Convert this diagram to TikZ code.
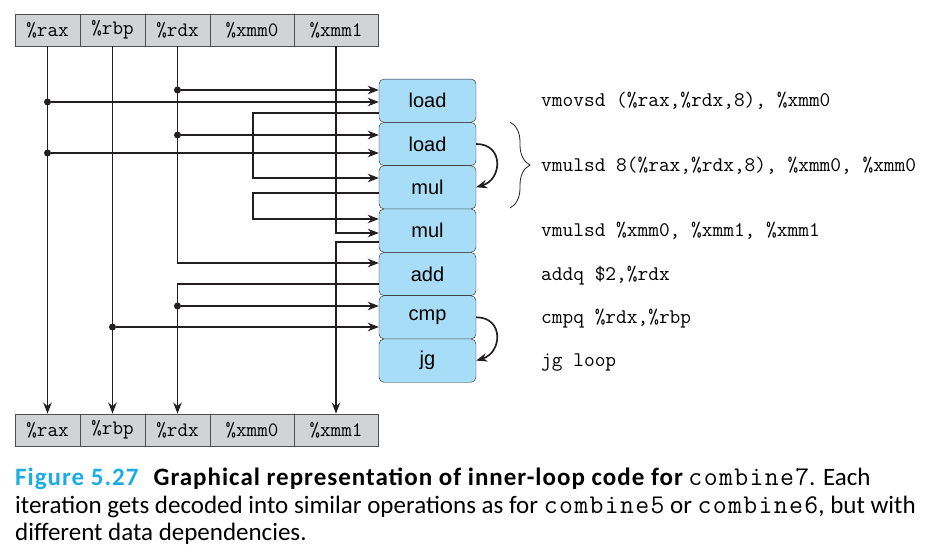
\documentclass[tikz,border=0pt]{standalone}
\usepackage{fontspec}
\setmainfont{Carlito}
\setsansfont{Liberation Sans}
\newfontfamily\capmono[LetterSpace=5]{Latin Modern Mono}
\usetikzlibrary{arrows.meta,decorations.pathreplacing}
\definecolor{Linea}{HTML}{231F20}
\definecolor{GrisReg}{HTML}{D1D3D4}
\definecolor{BordeReg}{HTML}{4D4D4F}
\definecolor{AzulOp}{HTML}{A8DDF7}
\definecolor{Cian}{HTML}{1AACE3}

\begin{document}
\begin{tikzpicture}[
  x=1pt,y=-1pt,
  reg/.style={draw=BordeReg,fill=GrisReg,minimum height=32.5pt,inner sep=0pt,
    font=\fontsize{20.5}{22}\selectfont\ttfamily},
  op/.style={draw=Linea,fill=AzulOp,rounded corners=5pt,minimum width=97pt,
    minimum height=43.3pt,inner sep=0pt,font=\fontsize{20}{22}\selectfont\sffamily},
  wire/.style={Linea,line width=1.7pt},
  arr/.style={wire,-{Stealth[length=11pt,width=8.5pt]}},
  dot/.style={circle,fill=Linea,inner sep=0pt,minimum size=7pt},
  code/.style={anchor=base west,inner sep=0pt,font=\fontsize{20.8}{22}\selectfont\ttfamily}
]
  \useasboundingbox (0,0) rectangle (930,560);

  % Barras de registros arriba y abajo.
  \foreach \r/\x/\w in {rax/47.5/65,rbp/112.5/65,rdx/177.5/65,xmm0/252/84,xmm1/336/84}
    {\node[reg,minimum width=\w pt] (\r-top) at (\x,30) {\%\r};
     \node[reg,minimum width=\w pt] (\r-bot) at (\x,430) {\%\r};}

  % Operaciones del bucle.
  \node[op] (ld1)  at (427.5,100.7) {load};
  \node[op] (ld2)  at (427.5,144.0) {load};
  \node[op] (mul1) at (427.5,187.3) {mul};
  \node[op] (mul2) at (427.5,230.6) {mul};
  \node[op] (add)  at (427.5,274.0) {add};
  \node[op] (cmp)  at (427.5,317.3) {cmp};
  \node[op] (jg)   at (427.5,360.6) {jg};

  % Registros que pasan de largo.
  \draw[arr] (rax-top.south) -- (rax-bot.north);
  \draw[arr] (rbp-top.south) -- (rbp-bot.north);
  \draw[arr] (rdx-top.south) |- ([yshift=11pt]add.west);
  \draw[arr] ([yshift=-10pt]add.west) -| (rdx-bot.north);
  \draw[arr] (xmm1-top.south) |- ([yshift=-2.4pt]mul2.west);
  \draw[arr] ([yshift=-11.4pt]mul2.west) -| (xmm1-bot.north);

  % Cadena load -> mul -> mul.
  \draw[arr] ([yshift=-12.3pt]ld1.west) -- ++(-126,0) |- ([yshift=9.3pt]mul1.west);
  \draw[arr] ([yshift=-5.7pt]mul1.west) -- ++(-126,0) |- ([yshift=11.6pt]mul2.west);

  % Derivaciones con punto.
  \node[dot] (rdx-a) at (177.5,90)  {};
  \node[dot] (rax-a) at (47.5,102)  {};
  \node[dot] (rdx-b) at (177.5,135) {};
  \node[dot] (rax-b) at (47.5,153)  {};
  \node[dot] (rdx-c) at (177.5,306) {};
  \node[dot] (rbp-a) at (112.5,327) {};
  \draw[arr] (rdx-a) -- (rdx-a -| ld1.west);
  \draw[arr] (rax-a) -- (rax-a -| ld1.west);
  \draw[arr] (rdx-b) -- (rdx-b -| ld2.west);
  \draw[arr] (rax-b) -- (rax-b -| ld2.west);
  \draw[arr] (rdx-c) -- (rdx-c -| cmp.west);
  \draw[arr] (rbp-a) -- (rbp-a -| cmp.west);

  % Dependencias a la derecha.
  \draw[arr] (ld2.east) .. controls +(28,0) and +(26,-8) .. (mul1.east);
  \draw[arr] (cmp.east) .. controls +(28,0) and +(26,-8) .. (jg.east);

  % Codigo ensamblador.
  \node[code] (c-movsd) at (541,106.7) {vmovsd (\%rax,\%rdx,8), \%xmm0};
  \node[code] (c-mul1)  at (541,171.7) {vmulsd 8(\%rax,\%rdx,8), \%xmm0, \%xmm0};
  \node[code] (c-mul2)  at (541,236.6) {vmulsd \%xmm0, \%xmm1, \%xmm1};
  \node[code] (c-add)   at (541,280.0) {addq \$2,\%rdx};
  \node[code] (c-cmp)   at (541,323.3) {cmpq \%rdx,\%rbp};
  \node[code] (c-jg)    at (541,366.6) {jg loop};
  \draw[Linea,line width=0.8pt,decorate,decoration={brace,amplitude=20pt}]
    (510,122) -- (510,208);

  % Pie de figura.
  \node[anchor=north west,inner sep=0pt,align=left,
    font=\fontsize{25}{27.5}\selectfont] (caption) at (15,468)
    {{\bfseries\addfontfeature{LetterSpace=4}{\color{Cian}Figure 5.27}\hspace{0.6em}Graphical
     representation of inner-loop code for} {\fontsize{27}{27.5}\capmono combine7}. Each\\
     iteration gets decoded into similar operations as for {\fontsize{27}{27.5}\capmono combine5} or
     {\fontsize{27}{27.5}\capmono combine6}, but with\\
     different data dependencies.};
\end{tikzpicture}
\end{document}
